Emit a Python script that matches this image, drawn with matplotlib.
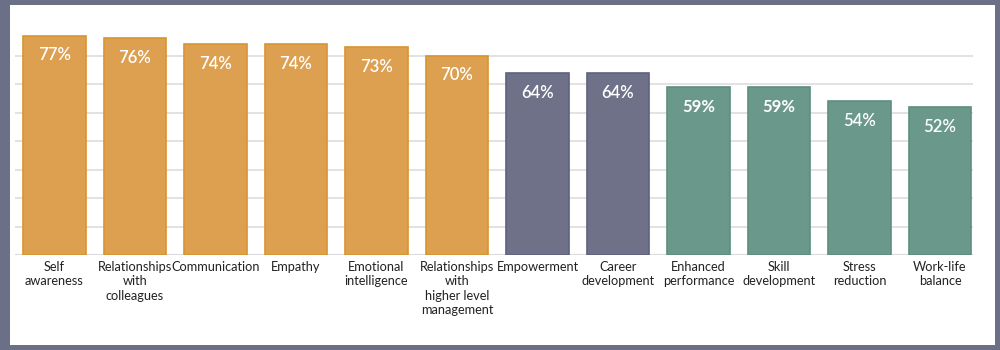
import numpy as np
import matplotlib.pyplot as plt
from matplotlib.patches import Rectangle

categories = ['Self\nawareness', 'Relationships\nwith\ncolleagues', 'Communication', 'Empathy',
              'Emotional\nintelligence', 'Relationships\nwith\nhigher level\nmanagement',
              'Empowerment', 'Career\ndevelopment', 'Enhanced\nperformance', 'Skill\ndevelopment',
              'Stress\nreduction', 'Work-life\nbalance']
values = [77, 76, 74, 74, 73, 70, 64, 64, 59, 59, 54, 52]
groups = ['a'] * 6 + ['b'] * 2 + ['c'] * 4

fill = {'a': '#dd9f50', 'b': '#6f7189', 'c': '#6a998b'}
edge = {'a': '#d8952f', 'b': '#5f6280', 'c': '#5d8e80'}

plt.rcParams['font.family'] = ['Lato', 'DejaVu Sans']

fig = plt.figure(figsize=(10, 3.5), dpi=100)
fig.patch.set_facecolor('#6b7086')
fig.add_artist(Rectangle((10 / 1000, 5 / 350), 985 / 1000, 340 / 350,
                         transform=fig.transFigure, facecolor='white', edgecolor='none', zorder=0))

ax = fig.add_axes([15 / 1000, 95 / 350, 958 / 1000, 228 / 350])
ax.set_facecolor('none')
x = np.arange(len(values))
ax.bar(x, values, width=0.78, color=[fill[g] for g in groups],
       edgecolor=[edge[g] for g in groups], linewidth=1.2, zorder=3)

for xi, v, g in zip(x, values, groups):
    ax.text(xi, v - 7.0, '%d%%' % v, ha='center', va='center', color='white',
            fontsize=12, fontweight='bold' if v == 59 else 'semibold', zorder=4)

for gy in range(10, 80, 10):
    ax.axhline(gy, color='#e2e2e2', linewidth=1.4, zorder=1)
ax.axhline(0, color='#dcdcdc', linewidth=1.6, zorder=2)

ax.set_xlim(-0.49, 11.41)
ax.set_ylim(0, 80)
ax.set_xticks(x)
ax.set_xticklabels(categories, fontsize=9.2, color='#222222', linespacing=1.25)
ax.tick_params(axis='x', length=0, pad=4)
ax.set_yticks([])
for s in ax.spines.values():
    s.set_visible(False)

fig.savefig('out.png', dpi=100, facecolor=fig.get_facecolor())
